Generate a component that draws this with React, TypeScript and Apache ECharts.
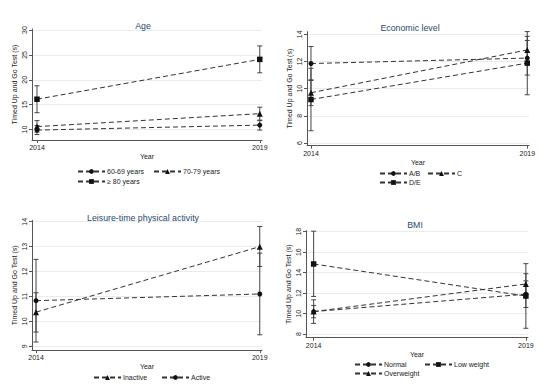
import React, { useEffect, useRef } from 'react';
import * as echarts from 'echarts';

// ---------- data ----------
const years = [2014, 2019];

const ageGroups = ['60-69 years', '70-79 years', '≥ 80 years'];
const ageMean = [[9.9, 10.9], [10.6, 13.2], [16.1, 24.1]];
const ageLow = [[9.0, 9.9], [9.5, 11.9], [13.4, 21.4]];
const ageHigh = [[10.8, 11.8], [11.8, 14.5], [18.8, 26.8]];
const ageTicks = [10, 15, 20, 25, 30];

const econGroups = ['A/B', 'C', 'D/E'];
const econMean = [[11.85, 12.25], [9.7, 12.85], [9.2, 11.88]];
const econLow = [[10.6, 11.0], [8.75, 11.85], [6.9, 9.55]];
const econHigh = [[13.1, 13.55], [10.65, 13.85], [11.5, 14.2]];
const econTicks = [6, 8, 10, 12, 14];

const ltpaGroups = ['Inactive', 'Active'];
const ltpaMean = [[10.37, 13.0], [10.83, 11.1]];
const ltpaLow = [[9.57, 12.2], [9.17, 9.46]];
const ltpaHigh = [[11.15, 13.81], [12.49, 12.74]];
const ltpaTicks = [9, 10, 11, 12, 13, 14];

const bmiGroups = ['Normal', 'Low weight', 'Overweight'];
const bmiMean = [[10.2, 11.9], [14.85, 11.72], [10.2, 12.9]];
const bmiLow = [[9.6, 10.6], [11.68, 8.57], [9.05, 11.9]];
const bmiHigh = [[10.8, 13.2], [18.05, 14.88], [11.35, 13.9]];
const bmiTicks = [8, 10, 12, 14, 16, 18];

const titles = ['Age', 'Economic level', 'Leisure-time physical activity', 'BMI'];
const yTitle = 'Timed Up and Go Test (s)';
const xTitle = 'Year';

// ---------- layout / style ----------
const FONT = 'Liberation Sans, Arial, sans-serif';
const TXT = '#222';
const SMALL = 7;

const panels = [
  {
    title: titles[0], tx: 138, ty: 16,
    grid: { left: 32, top: 29, width: 230, height: 111 },
    xr: [2013.888, 2019.05], yr: [7.91, 30.2], ticks: ageTicks,
    names: ageGroups, mean: ageMean, low: ageLow, high: ageHigh,
    symbols: ['circle', 'triangle', 'rect'],
    legendPos: [[77, 172], [153, 172], [77, 182]],
  },
  {
    title: titles[1], tx: 405, ty: 18,
    grid: { left: 307, top: 31.6, width: 222, height: 114.1 },
    xr: [2013.908, 2019.04], yr: [5.8, 14.2], ticks: econTicks,
    names: econGroups, mean: econMean, low: econLow, high: econHigh,
    symbols: ['circle', 'triangle', 'rect'],
    legendPos: [[379, 174], [427, 174], [379, 183]],
  },
  {
    title: titles[2], tx: 138, ty: 208,
    grid: { left: 32, top: 220.5, width: 230, height: 129.5 },
    xr: [2013.91, 2019.05], yr: [8.85, 14.05], ticks: ltpaTicks,
    names: ltpaGroups, mean: ltpaMean, low: ltpaLow, high: ltpaHigh,
    symbols: ['triangle', 'circle'],
    legendPos: [[93, 378], [161, 378]],
  },
  {
    title: titles[3], tx: 410, ty: 215,
    grid: { left: 306, top: 230.7, width: 222, height: 107 },
    xr: [2013.82, 2019.05], yr: [7.65, 18.1], ticks: bmiTicks,
    names: bmiGroups, mean: bmiMean, low: bmiLow, high: bmiHigh,
    symbols: ['circle', 'rect', 'triangle'],
    legendPos: [[354, 365], [424, 365], [354, 374]],
  },
];

const symbolSize: Record<string, number> = { circle: 5, triangle: 6, rect: 5.5 };

function buildOption() {
  const grid: any[] = [];
  const xAxis: any[] = [];
  const yAxis: any[] = [];
  const series: any[] = [];
  const legend: any[] = [];
  const title: any[] = [];

  panels.forEach((p, i) => {
    grid.push({ ...p.grid, containLabel: false });
    title.push({
      text: p.title, left: p.tx, top: p.ty, textAlign: 'center',
      textStyle: { fontFamily: FONT, fontSize: 8.8, fontWeight: 'normal', color: '#2a4a6e' },
    });
    xAxis.push({
      type: 'value', gridIndex: i, min: p.xr[0], max: p.xr[1],
      name: xTitle, nameLocation: 'middle', nameGap: 13,
      nameTextStyle: { fontFamily: FONT, fontSize: SMALL, color: TXT },
      axisLine: { show: true, lineStyle: { color: '#555', width: 1 } },
      axisTick: { show: true, length: 3, lineStyle: { color: '#555' }, customValues: years },
      axisLabel: { fontFamily: FONT, fontSize: SMALL, color: TXT, margin: 4, customValues: years,
        formatter: (v: number) => String(Math.round(v)) },
      splitLine: { show: false },
    });
    yAxis.push({
      type: 'value', gridIndex: i, min: p.yr[0], max: p.yr[1],
      name: yTitle, nameLocation: 'middle', nameGap: 14,
      nameTextStyle: { fontFamily: FONT, fontSize: SMALL, color: TXT },
      axisLine: { show: true, lineStyle: { color: '#555', width: 1 } },
      axisTick: { show: true, length: 3, lineStyle: { color: '#555' }, customValues: p.ticks },
      axisLabel: { fontFamily: FONT, fontSize: SMALL, color: TXT, margin: 4, rotate: 90,
        customValues: p.ticks },
      splitLine: { show: true, lineStyle: { color: '#e8ecef', width: 1 } },
    });

    p.names.forEach((name, k) => {
      const errData = years.map((y, j) => [y, p.low[k][j], p.high[k][j]]);
      series.push({
        type: 'custom', xAxisIndex: i, yAxisIndex: i, z: 1, silent: true,
        encode: { x: 0, y: [1, 2] },
        data: errData,
        renderItem: (params: any, api: any) => {
          const x = api.value(0);
          const lo = api.coord([x, api.value(1)]);
          const hi = api.coord([x, api.value(2)]);
          const w = 2.5;
          const style = { stroke: '#444', lineWidth: 1, fill: 'none' };
          return {
            type: 'group',
            children: [
              { type: 'line', shape: { x1: lo[0], y1: lo[1], x2: hi[0], y2: hi[1] }, style },
              { type: 'line', shape: { x1: lo[0] - w, y1: lo[1], x2: lo[0] + w, y2: lo[1] }, style },
              { type: 'line', shape: { x1: hi[0] - w, y1: hi[1], x2: hi[0] + w, y2: hi[1] }, style },
            ],
          };
        },
      });
      const sym = p.symbols[k];
      series.push({
        type: 'line', name, xAxisIndex: i, yAxisIndex: i, z: 3,
        data: years.map((y, j) => [y, p.mean[k][j]]),
        symbol: sym, symbolSize: symbolSize[sym], showSymbol: true,
        itemStyle: { color: '#111' },
        lineStyle: { color: '#333', width: 1, type: [5, 3] },
        silent: true,
      });
      const [lx, ly] = p.legendPos[k];
      legend.push({
        data: [name], left: lx, top: ly - 4, padding: 0, itemGap: 0,
        itemWidth: 27, itemHeight: 6, selectedMode: false,
        textStyle: { fontFamily: FONT, fontSize: SMALL, color: TXT, padding: [0, 0, 0, -3] },
      });
    });
  });

  return {
    animation: false,
    backgroundColor: '#fff',
    title, grid, xAxis, yAxis, series, legend,
  };
}

export default function App() {
  const ref = useRef<HTMLDivElement>(null);
  useEffect(() => {
    if (!ref.current) return;
    const chart = echarts.init(ref.current, undefined, { renderer: 'svg' });
    chart.setOption(buildOption() as any);
    return () => chart.dispose();
  }, []);
  return (
    <div
      ref={ref}
      style={{ position: 'fixed', left: 0, top: 0, width: 550, height: 392, background: '#fff' }}
    />
  );
}
